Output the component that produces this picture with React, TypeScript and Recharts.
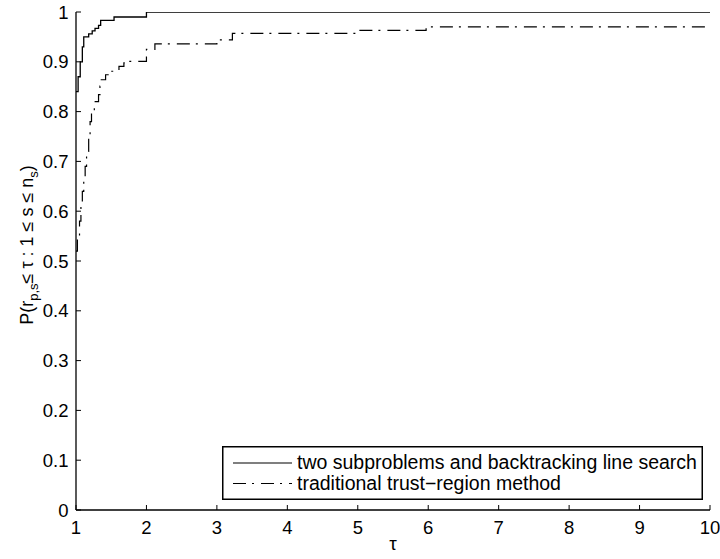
import React from "react"
import { LineChart, Line, XAxis, YAxis, Legend, Customized } from "recharts"

// performance profile: tau and P(r <= tau)
const solidTau = [1.0, 1.03, 1.06, 1.09, 1.11, 1.18, 1.23, 1.27, 1.32, 1.35, 1.54, 2.0, 10]
const solidP = [0.84, 0.87, 0.9, 0.93, 0.95, 0.956, 0.962, 0.967, 0.973, 0.983, 0.99, 1.0, 1.0]

const dashTau = [
  1.0, 1.02, 1.05, 1.07, 1.09, 1.11, 1.13, 1.15, 1.18, 1.2, 1.22, 1.26, 1.32, 1.34, 1.35, 1.42, 1.47, 1.61, 1.68,
  1.75, 2.0, 2.12, 3.0, 3.22, 4.99, 5.97, 10,
]
const dashP = [
  0.52, 0.55, 0.58, 0.61, 0.64, 0.67, 0.69, 0.72, 0.75, 0.78, 0.8, 0.82, 0.834, 0.851, 0.864, 0.874, 0.881, 0.891,
  0.898, 0.901, 0.925, 0.936, 0.944, 0.957, 0.963, 0.97, 0.97,
]

const xTicks = [1, 2, 3, 4, 5, 6, 7, 8, 9, 10]
const yTicks = [0, 0.1, 0.2, 0.3, 0.4, 0.5, 0.6, 0.7, 0.8, 0.9, 1]

const seriesNames = ["two subproblems and backtracking line search", "traditional trust\u2212region method"]

const solidData = solidTau.map((t, i) => ({ tau: t, p: solidP[i] }))
const dashData = dashTau.map((t, i) => ({ tau: t, p: dashP[i] }))

const FONT = "'Liberation Sans', Arial, Helvetica, sans-serif"
const DASH = "13 6 2 7"
const TICK_FS = 18.5

const NoLabel = () => <g />

const XTick = (props: any) => (
  <text x={props.x} y={props.y} dy="0.71em" textAnchor="middle" fontSize={TICK_FS} fontFamily={FONT} fill="#000">
    {props.payload.value}
  </text>
)

const YTick = (props: any) => (
  <text x={props.x} y={props.y} dy="0.355em" textAnchor="end" fontSize={TICK_FS} fontFamily={FONT} fill="#000">
    {String(Math.round(props.payload.value * 10) / 10)}
  </text>
)

function LegendBox() {
  return (
    <svg width={481} height={54} style={{ display: "block" }}>
      <rect x={0.75} y={0.75} width={479.5} height={52.5} fill="#fff" stroke="#000" strokeWidth={1.5} />
      <line x1={11} x2={70} y1={17} y2={17} stroke="#000" strokeWidth={1.2} />
      <text x={75} y={23} fontSize={19.5} fontFamily={FONT} fill="#000">
        {seriesNames[0]}
      </text>
      <line x1={11} x2={70} y1={37.5} y2={37.5} stroke="#000" strokeWidth={1.2} strokeDasharray={DASH} />
      <text x={75} y={43.5} fontSize={19.5} fontFamily={FONT} fill="#000">
        {seriesNames[1]}
      </text>
    </svg>
  )
}

function AxisTitles() {
  return (
    <g fontFamily={FONT} fill="#000">
      <text transform="rotate(-90)" x={-245} y={33} textAnchor="middle" fontSize={18}>
        P(r
        <tspan fontSize={13} dy={5}>
          p,s
        </tspan>
        <tspan dy={-5}>{"\u2264 \u03c4 : 1 \u2264 s \u2264 n"}</tspan>
        <tspan fontSize={13} dy={5}>
          s
        </tspan>
        <tspan dy={-5}>)</tspan>
      </text>
      <text x={393} y={550} textAnchor="middle" fontSize={19}>
        {"\u03c4"}
      </text>
    </g>
  )
}

export default function App() {
  return (
    <div style={{ position: "absolute", left: 0, top: 0, background: "#fff" }}>
      <LineChart width={720} height={559} margin={{ top: 12, right: 10, left: 0, bottom: 0 }}>
        <XAxis
          xAxisId="b"
          dataKey="tau"
          type="number"
          domain={[1, 10]}
          ticks={xTicks}
          allowDataOverflow
          height={49}
          tickSize={-5}
          tickMargin={15.5}
          tick={XTick}
          axisLine={{ stroke: "#000", strokeWidth: 1.3 }}
          tickLine={{ stroke: "#000" }}
        />
        <XAxis
          xAxisId="t"
          orientation="top"
          type="number"
          domain={[1, 10]}
          ticks={xTicks}
          allowDataOverflow
          height={0}
          tickSize={-5}
          tick={NoLabel}
          axisLine={{ stroke: "#000", strokeWidth: 1.3 }}
          tickLine={{ stroke: "#000" }}
        />
        <YAxis
          yAxisId="l"
          type="number"
          domain={[0, 1]}
          ticks={yTicks}
          allowDataOverflow
          width={76}
          tickSize={-5}
          tickMargin={12.5}
          tick={YTick}
          axisLine={{ stroke: "#000", strokeWidth: 1.3 }}
          tickLine={{ stroke: "#000" }}
        />
        <YAxis
          yAxisId="r"
          orientation="right"
          type="number"
          domain={[0, 1]}
          ticks={yTicks}
          allowDataOverflow
          width={0}
          tickSize={-5}
          tick={NoLabel}
          axisLine={{ stroke: "#000", strokeWidth: 1.3 }}
          tickLine={{ stroke: "#000" }}
        />
        <Line
          xAxisId="b"
          yAxisId="l"
          data={solidData}
          dataKey="p"
          type="stepAfter"
          stroke="#000"
          strokeWidth={1.3}
          dot={false}
          isAnimationActive={false}
        />
        <Line
          xAxisId="b"
          yAxisId="l"
          data={dashData}
          dataKey="p"
          type="stepAfter"
          stroke="#000"
          strokeWidth={1.2}
          strokeDasharray={DASH}
          dot={false}
          isAnimationActive={false}
        />
        <Legend
          layout="horizontal"
          verticalAlign="middle"
          align="center"
          content={() => <LegendBox />}
          wrapperStyle={{ position: "absolute", left: 222, top: 446, width: 481, height: 54 }}
        />
        <Customized component={AxisTitles} />
      </LineChart>
    </div>
  )
}
